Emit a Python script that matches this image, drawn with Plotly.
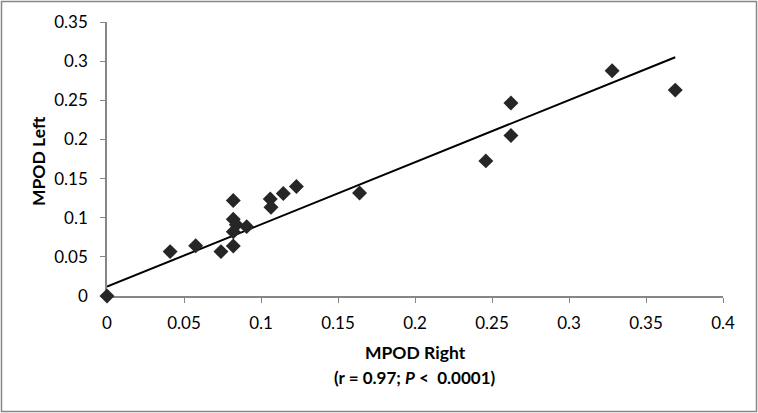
import plotly.graph_objects as go

mpod_right = [0.0, 0.041, 0.0576, 0.074, 0.082, 0.082, 0.082, 0.082, 0.084, 0.0907,
              0.106, 0.1065, 0.1145, 0.123, 0.164, 0.246, 0.2623, 0.2623, 0.328, 0.369]
mpod_left = [0.0, 0.0567, 0.0643, 0.0567, 0.064, 0.122, 0.098, 0.082, 0.091, 0.0886,
             0.124, 0.1134, 0.131, 0.14, 0.1317, 0.1726, 0.2464, 0.205, 0.2877, 0.263]
x_ticks = [0, 0.05, 0.1, 0.15, 0.2, 0.25, 0.3, 0.35, 0.4]
y_ticks = [0, 0.05, 0.1, 0.15, 0.2, 0.25, 0.3, 0.35]
trend_intercept = 0.012
trend_slope = 0.794

line_x = [0, max(mpod_right)]
line_y = [trend_intercept + trend_slope * v for v in line_x]

W, H = 758, 413
ml, mr, mt, mb = 107, 35, 22, 117
pw, ph = W - ml - mr, H - mt - mb

def px_x(p):
    return (p - ml) / pw

def px_y(p):
    return (H - mb - p) / ph

fig = go.Figure()
fig.add_trace(go.Scatter(x=line_x, y=line_y, mode="lines",
                         line=dict(color="#000000", width=2), hoverinfo="skip"))
fig.add_trace(go.Scatter(x=mpod_right, y=mpod_left, mode="markers",
                         marker=dict(symbol="diamond", size=11.5, color="#262626"),
                         cliponaxis=False))

font = "Lato, 'Open Sans', sans-serif"
axis_common = dict(showgrid=False, zeroline=False, showline=True, linecolor="#868686",
                   linewidth=1.5, ticks="outside", ticklen=5, tickcolor="#868686",
                   layer="below traces")
fig.update_layout(
    width=W, height=H, showlegend=False,
    margin=dict(l=ml, r=mr, t=mt, b=mb),
    paper_bgcolor="white", plot_bgcolor="white",
    font=dict(family=font, size=17, color="#000000"),
    xaxis=dict(range=[0, 0.4], tickvals=x_ticks, ticktext=[f"{v:g}" for v in x_ticks],
               ticklabelstandoff=6, **axis_common),
    yaxis=dict(range=[0, 0.35], tickvals=y_ticks, ticktext=[f"{v:g}" for v in y_ticks],
               ticklabelstandoff=9, **axis_common),
    annotations=[
        dict(text="<b>MPOD Right</b>", xref="paper", yref="paper",
             x=px_x(415), y=px_y(352), xanchor="center", yanchor="middle",
             showarrow=False, font=dict(size=17.5)),
        dict(text="<b>(r = 0.97; <i>P</i> <  0.0001)</b>", xref="paper", yref="paper",
             x=px_x(415), y=px_y(377), xanchor="center", yanchor="middle",
             showarrow=False, font=dict(size=17)),
        dict(text="<b>MPOD Left</b>", xref="paper", yref="paper", textangle=-90,
             x=px_x(38), y=px_y(161), xanchor="center", yanchor="middle",
             showarrow=False, font=dict(size=17.5)),
    ],
    shapes=[dict(type="rect", xref="paper", yref="paper",
                 x0=px_x(1.5), x1=px_x(W - 1.5),
                 y0=px_y(H - 1.5), y1=px_y(1.5),
                 line=dict(color="#868686", width=1.5), layer="below")],
)
fig.write_html("out.html", config={"displayModeBar": False},
               post_script="document.body.style.margin='0';")
